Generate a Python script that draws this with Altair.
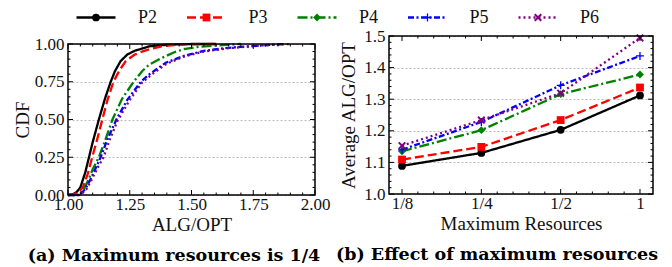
import altair as alt
import pandas as pd

FONT = "Liberation Serif"
CAP_FONT = "DejaVu Serif"

series = ["P2", "P3", "P4", "P5", "P6"]
colors = ["#000000", "#ff0000", "#008000", "#0000ff", "#800080"]
dashes = [[1, 0], [9, 4], [10, 3, 2, 3], [6, 2.5, 2, 2.5], [2, 3]]
PLUS = "M-1,-0.16H-0.16V-1H0.16V-0.16H1V0.16H0.16V1H-0.16V0.16H-1Z"
XMARK = "M-1,-0.65L-0.65,-1L0,-0.35L0.65,-1L1,-0.65L0.35,0L1,0.65L0.65,1L0,0.35L-0.65,1L-1,0.65L-0.35,0Z"
shapes = ["circle", "square", "diamond", PLUS, XMARK]
sizes = [60, 64, 100, 110, 90]

# (a) CDF of ALG/OPT, maximum resources 1/4
cdf_x = {
    "P2": [1.00, 1.02, 1.035, 1.05, 1.07, 1.085, 1.10, 1.125, 1.15, 1.173, 1.19, 1.213, 1.24, 1.27, 1.30, 1.33, 1.40, 1.50, 1.60],
    "P3": [1.00, 1.02, 1.04, 1.06, 1.08, 1.098, 1.12, 1.139, 1.16, 1.184, 1.21, 1.234, 1.27, 1.30, 1.33, 1.38, 1.47, 1.60],
    "P4": [1.00, 1.03, 1.044, 1.06, 1.08, 1.10, 1.125, 1.15, 1.18, 1.22, 1.266, 1.30, 1.33, 1.383, 1.43, 1.467, 1.52, 1.60, 1.70],
    "P5": [1.00, 1.04, 1.05, 1.07, 1.09, 1.11, 1.132, 1.16, 1.196, 1.24, 1.295, 1.33, 1.396, 1.467, 1.55, 1.65, 1.78, 1.88],
    "P6": [1.00, 1.045, 1.055, 1.075, 1.095, 1.12, 1.144, 1.17, 1.20, 1.25, 1.30, 1.34, 1.40, 1.467, 1.55, 1.65, 1.78, 1.90],
}
cdf_y = {
    "P2": [0.0, 0.005, 0.02, 0.05, 0.15, 0.25, 0.35, 0.50, 0.64, 0.75, 0.82, 0.887, 0.93, 0.955, 0.97, 0.985, 0.995, 1.0, 1.0],
    "P3": [0.0, 0.003, 0.015, 0.05, 0.14, 0.25, 0.38, 0.50, 0.63, 0.75, 0.83, 0.887, 0.93, 0.95, 0.965, 0.985, 0.998, 1.0],
    "P4": [0.0, 0.0, 0.005, 0.03, 0.09, 0.17, 0.25, 0.36, 0.50, 0.64, 0.75, 0.82, 0.865, 0.91, 0.945, 0.965, 0.98, 0.99, 1.0],
    "P5": [0.0, 0.0, 0.005, 0.04, 0.10, 0.17, 0.25, 0.37, 0.50, 0.63, 0.75, 0.80, 0.876, 0.92, 0.955, 0.975, 0.99, 1.0],
    "P6": [0.0, 0.0, 0.005, 0.04, 0.10, 0.18, 0.25, 0.37, 0.49, 0.63, 0.745, 0.80, 0.87, 0.915, 0.95, 0.972, 0.99, 1.0],
}

# (b) average ALG/OPT vs maximum resources
levels = ["1/8", "1/4", "1/2", "1"]
avg = {
    "P2": [1.089, 1.130, 1.203, 1.312],
    "P3": [1.109, 1.149, 1.234, 1.337],
    "P4": [1.135, 1.202, 1.316, 1.378],
    "P5": [1.140, 1.228, 1.344, 1.437],
    "P6": [1.153, 1.234, 1.319, 1.494],
}

# tick positions
xa_major = [1.0, 1.25, 1.5, 1.75, 2.0]
xa_minor = [1.05, 1.1, 1.15, 1.2, 1.3, 1.35, 1.4, 1.45, 1.55, 1.6, 1.65, 1.7, 1.8, 1.85, 1.9, 1.95]
ya_major = [0.0, 0.25, 0.5, 0.75, 1.0]
ya_minor = [0.05, 0.1, 0.15, 0.2, 0.3, 0.35, 0.4, 0.45, 0.55, 0.6, 0.65, 0.7, 0.8, 0.85, 0.9, 0.95]
xb_major = [0, 1, 2, 3]
xb_minor = [0.2, 0.4, 0.6, 0.8, 1.2, 1.4, 1.6, 1.8, 2.2, 2.4, 2.6, 2.8]
yb_major = [1.0, 1.1, 1.2, 1.3, 1.4, 1.5]
yb_minor = [1.02, 1.04, 1.06, 1.08, 1.12, 1.14, 1.16, 1.18, 1.22, 1.24, 1.26, 1.28,
            1.32, 1.34, 1.36, 1.38, 1.42, 1.44, 1.46, 1.48]

# ---------- tables ----------
cdf_rows = []
for s in series:
    for xv, yv in zip(cdf_x[s], cdf_y[s]):
        cdf_rows.append({"s": s, "x": xv, "y": yv})
cdf_df = pd.DataFrame(cdf_rows)

avg_rows = []
for s in series:
    for i, v in enumerate(avg[s]):
        avg_rows.append({"s": s, "i": i, "v": v})
avg_df = pd.DataFrame(avg_rows)

leg_df = pd.DataFrame({"s": series, "i": list(range(len(series)))})

color_s = alt.Scale(domain=series, range=colors)
dash_s = alt.Scale(domain=series, range=dashes)
shape_s = alt.Scale(domain=series, range=shapes)
size_s = alt.Scale(domain=series, range=sizes)

col = alt.Color("s:N", scale=color_s, legend=None)
dsh = alt.StrokeDash("s:N", scale=dash_s, legend=None)
shp = alt.Shape("s:N", scale=shape_s, legend=None)
siz = alt.Size("s:N", scale=size_s, legend=None)

GRID = dict(grid=True, gridDash=[2, 2], gridColor="#bdbdbd", gridWidth=1)
NOTICK = dict(ticks=False, domain=False, labelFlush=False, labelOverlap=False)


def frame_ticks(xs, ys, xmaj, xmin, ymaj, ymin, W, top, bottom):
    layers = []
    for vals, L in ((xmaj, 5), (xmin, 2.5)):
        d = pd.DataFrame({"v": vals})
        b = alt.Chart(d).mark_rule(color="black", strokeWidth=1)
        xe = alt.X("v:Q", scale=xs, axis=None)
        layers.append(b.encode(x=xe, y=alt.value(bottom), y2=alt.value(bottom - L)))
        layers.append(b.encode(x=xe, y=alt.value(top), y2=alt.value(top + L)))
    for vals, L in ((ymaj, 5), (ymin, 2.5)):
        d = pd.DataFrame({"v": vals})
        b = alt.Chart(d).mark_rule(color="black", strokeWidth=1)
        ye = alt.Y("v:Q", scale=ys, axis=None)
        layers.append(b.encode(y=ye, x=alt.value(0), x2=alt.value(L)))
        layers.append(b.encode(y=ye, x=alt.value(W), x2=alt.value(W - L)))
    fr = alt.Chart(pd.DataFrame({"a": [0]})).mark_rect(
        fillOpacity=0, stroke="black", strokeWidth=1.5
    ).encode(x=alt.value(0), x2=alt.value(W), y=alt.value(top), y2=alt.value(bottom))
    layers.append(fr)
    return layers


# ---------- left panel ----------
W1, H1, TOP1 = 247, 159, 8
xs1 = alt.Scale(domain=[1.0, 2.0], nice=False, zero=False)
ys1 = alt.Scale(domain=[0.0, 1.0], range=[H1, TOP1], nice=False, zero=False)

lines1 = alt.Chart(cdf_df).mark_line(strokeWidth=2.3).encode(
    x=alt.X("x:Q", scale=xs1, axis=alt.Axis(
        values=xa_major, format=".2f", title="ALG/OPT", grid=False, labelPadding=1,
        titleX=W1 / 2, titleY=29, titleBaseline="middle", **NOTICK)),
    y=alt.Y("y:Q", scale=ys1, axis=alt.Axis(
        values=ya_major, format=".2f", title="CDF", labelPadding=4,
        titleX=-45.5, titleY=(TOP1 + H1) / 2, titleBaseline="middle", titleAngle=-90,
        **GRID, **NOTICK)),
    color=col, strokeDash=dsh,
)

LEG_Y = -18.5
xs_leg = alt.Scale(domain=[-0.2534, 1.9819], nice=False, zero=False)
leg_x = alt.X("i:Q", scale=xs_leg, axis=None)
leg_rule = alt.Chart(leg_df).mark_rule(strokeWidth=2.3, xOffset=-19.5, x2Offset=19.5).encode(
    x=leg_x, x2="i:Q", y=alt.value(LEG_Y), color=col, strokeDash=dsh)
leg_pts = alt.Chart(leg_df).mark_point(filled=True, opacity=1).encode(
    x=leg_x, y=alt.value(LEG_Y), color=col, shape=shp, size=siz)
leg_txt = alt.Chart(leg_df).mark_text(
    align="left", baseline="middle", dx=42, font=FONT, fontSize=18, color="#111").encode(
    x=leg_x, y=alt.value(LEG_Y), text="s:N")

left = alt.layer(
    lines1,
    *frame_ticks(xs1, ys1, xa_major, xa_minor, ya_major, ya_minor, W1, TOP1, H1),
    leg_rule, leg_pts, leg_txt,
).resolve_scale(x="independent").resolve_axis(x="independent", y="independent").properties(
    width=W1, height=H1,
    title=alt.TitleParams("(a) Maximum resources is 1/4", orient="bottom", frame="group",
                          anchor="middle", dx=-17.5, offset=13, font=CAP_FONT,
                          fontSize=17.5, fontWeight="bold", color="black"),
)

# ---------- right panel ----------
W2, H2 = 264, 158
xs2 = alt.Scale(domain=[-0.164, 3.164], nice=False, zero=False)
ys2 = alt.Scale(domain=[1.0, 1.5], nice=False, zero=False)
lab_expr = "[" + ",".join("'" + l + "'" for l in levels) + "][round(datum.value)]"

xe2 = alt.X("i:Q", scale=xs2, axis=alt.Axis(
    values=xb_major, labelExpr=lab_expr, title="Maximum Resources", grid=False,
    labelPadding=1, titleX=W2 / 2, titleY=29, titleBaseline="middle", **NOTICK))
ye2 = alt.Y("v:Q", scale=ys2, axis=alt.Axis(
    values=yb_major, format=".1f", title="Average ALG/OPT", labelPadding=4,
    titleX=-40.5, titleY=H2 / 2, titleBaseline="middle", titleAngle=-90,
    **GRID, **NOTICK))

lines2 = alt.Chart(avg_df).mark_line(strokeWidth=2.3).encode(
    x=xe2, y=ye2, color=col, strokeDash=dsh)
pts2 = alt.Chart(avg_df).mark_point(filled=True, opacity=1).encode(
    x=alt.X("i:Q", scale=xs2, axis=None), y=alt.Y("v:Q", scale=ys2, axis=None),
    color=col, shape=shp, size=siz)

right = alt.layer(
    lines2, pts2,
    *frame_ticks(xs2, ys2, xb_major, xb_minor, yb_major, yb_minor, W2, 0, H2),
).resolve_axis(x="independent", y="independent").properties(
    width=W2, height=H2,
    title=alt.TitleParams("(b) Effect of maximum resources", orient="bottom", frame="group",
                          anchor="middle", dx=-24, offset=13, font=CAP_FONT,
                          fontSize=17.5, fontWeight="bold", color="black"),
)

chart = alt.hconcat(left, right, spacing=74, bounds="flush").properties(
    padding={"left": 5, "top": 0, "right": 0, "bottom": 0}
).configure_view(stroke="transparent").configure_axis(
    labelFont=FONT, titleFont=FONT, labelFontSize=17, titleFontSize=19,
    labelColor="#111", titleColor="#111", titleFontWeight="normal",
)

chart.save("out.html", embed_options={"renderer": "svg", "actions": False})
